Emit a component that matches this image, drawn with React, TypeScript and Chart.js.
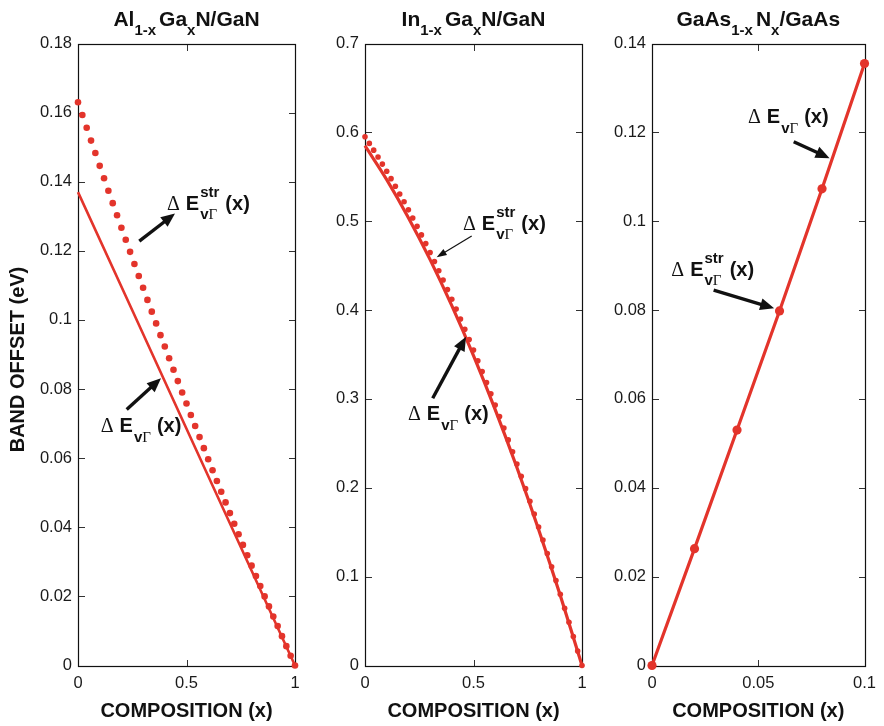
import React, { useEffect, useRef } from 'react';
import { Chart, registerables } from 'chart.js';

Chart.register(...registerables);

const RED = '#e3342b';
const W = 884;
const H = 726;
const TOP = 43.5;
const BOTTOM = 665.5;
const Y_W = 60;
const X_H = 40;

// composition grid of the dotted (strained) curves
const compositionFine = [
  0, 0.02, 0.04, 0.06, 0.08, 0.1, 0.12, 0.14, 0.16, 0.18, 0.2, 0.22, 0.24, 0.26, 0.28, 0.3, 0.32,
  0.34, 0.36, 0.38, 0.4, 0.42, 0.44, 0.46, 0.48, 0.5, 0.52, 0.54, 0.56, 0.58, 0.6, 0.62, 0.64,
  0.66, 0.68, 0.7, 0.72, 0.74, 0.76, 0.78, 0.8, 0.82, 0.84, 0.86, 0.88, 0.9, 0.92, 0.94, 0.96,
  0.98, 1,
];

// AlGaN/GaN
const alStrained = [
  0.163, 0.1593, 0.1556, 0.1519, 0.1483, 0.1446, 0.141, 0.1374, 0.1338, 0.1303, 0.1267, 0.1232,
  0.1197, 0.1162, 0.1127, 0.1093, 0.1058, 0.1024, 0.099, 0.0956, 0.0923, 0.0889, 0.0856, 0.0823,
  0.079, 0.0758, 0.0725, 0.0693, 0.0661, 0.0629, 0.0597, 0.0565, 0.0534, 0.0503, 0.0472, 0.0441,
  0.041, 0.038, 0.0349, 0.0319, 0.0289, 0.0259, 0.023, 0.02, 0.0171, 0.0142, 0.0114, 0.0085,
  0.0056, 0.0028, 0,
];
const alLineX = [0, 0.25, 0.5, 0.75, 1];
const alLine = [0.137, 0.1028, 0.0685, 0.0343, 0];

// InGaN/GaN
const inStrained = [
  0.595, 0.5876, 0.58, 0.5723, 0.5643, 0.5562, 0.5479, 0.5394, 0.5307, 0.5219, 0.5128, 0.5036,
  0.4942, 0.4846, 0.4748, 0.4648, 0.4547, 0.4443, 0.4338, 0.4231, 0.4122, 0.4011, 0.3899, 0.3784,
  0.3668, 0.355, 0.343, 0.3308, 0.3185, 0.3059, 0.2932, 0.2803, 0.2672, 0.2539, 0.2405, 0.2268,
  0.213, 0.199, 0.1848, 0.1704, 0.1558, 0.1411, 0.1261, 0.111, 0.0957, 0.0802, 0.0645, 0.0487,
  0.0326, 0.0164, 0,
];
const inLineX = [0, 0.1, 0.2, 0.3, 0.4, 0.5, 0.6, 0.7, 0.8, 0.9, 1];
const inLine = [0.585, 0.5468, 0.504, 0.4568, 0.405, 0.3488, 0.288, 0.2228, 0.153, 0.0788, 0];

// GaAsN/GaAs
const gaX = [0, 0.02, 0.04, 0.06, 0.08, 0.1];
const gaLine = [0, 0.0263, 0.053, 0.0798, 0.1073, 0.1355];

// tick labels
const alYTicks = [0, 0.02, 0.04, 0.06, 0.08, 0.1, 0.12, 0.14, 0.16, 0.18];
const inYTicks = [0, 0.1, 0.2, 0.3, 0.4, 0.5, 0.6, 0.7];
const gaYTicks = [0, 0.02, 0.04, 0.06, 0.08, 0.1, 0.12, 0.14];
const unitXTicks = [0, 0.5, 1];
const gaXTicks = [0, 0.05, 0.1];

const Y_TITLE = 'BAND OFFSET (eV)';
const X_TITLE = 'COMPOSITION (x)';

type Part = { t: string; sub?: boolean; gap?: number };
type Label = { x: number; y: number; str: boolean };
type Arrow = { x1: number; y1: number; x2: number; y2: number; thin?: boolean };

const alTitle: Part[] = [{ t: 'Al' }, { t: '1-x', sub: true, gap: 3 }, { t: 'Ga' }, { t: 'x', sub: true }, { t: 'N/GaN' }];
const inTitle: Part[] = [{ t: 'In' }, { t: '1-x', sub: true, gap: 3 }, { t: 'Ga' }, { t: 'x', sub: true }, { t: 'N/GaN' }];
const gaTitle: Part[] = [{ t: 'GaAs' }, { t: '1-x', sub: true, gap: 3 }, { t: 'N' }, { t: 'x', sub: true }, { t: '/GaAs' }];

const alLabels: Label[] = [
  { x: 0.4101, y: 0.1317, str: true },
  { x: 0.1046, y: 0.0676, str: false },
];
const alArrows: Arrow[] = [
  { x1: 0.2825, y1: 0.1228, x2: 0.447, y2: 0.1308 },
  { x1: 0.2244, y1: 0.0741, x2: 0.3825, y2: 0.0831 },
];
const inLabels: Label[] = [
  { x: 0.4516, y: 0.4901, str: true },
  { x: 0.1982, y: 0.2763, str: false },
];
const inArrows: Arrow[] = [
  { x1: 0.4917, y1: 0.4834, x2: 0.3304, y2: 0.4594, thin: true },
  { x1: 0.312, y1: 0.3007, x2: 0.4654, y2: 0.37 },
];
const gaLabels: Label[] = [
  { x: 0.00908, y: 0.0877, str: true },
  { x: 0.04516, y: 0.122, str: false },
];
const gaArrows: Arrow[] = [
  { x1: 0.029, y1: 0.0845, x2: 0.05747, y2: 0.0804 },
  { x1: 0.06668, y1: 0.1179, x2: 0.08355, y2: 0.1142 },
];

const SANS = '"Liberation Sans", Arial, sans-serif';
const SERIF = '"Liberation Serif", "Times New Roman", serif';

function pts(xs: number[], ys: number[]) {
  return xs.map((x, i) => ({ x, y: ys[i] }));
}

function drawRich(ctx: CanvasRenderingContext2D, parts: Part[], cx: number, y: number) {
  const mainF = `bold 21px ${SANS}`;
  const subF = `bold 15px ${SANS}`;
  let total = 0;
  for (const p of parts) {
    ctx.font = p.sub ? subF : mainF;
    total += ctx.measureText(p.t).width + (p.gap || 0);
  }
  let x = cx - total / 2;
  ctx.textAlign = 'left';
  ctx.textBaseline = 'alphabetic';
  for (const p of parts) {
    ctx.font = p.sub ? subF : mainF;
    ctx.fillText(p.t, x, p.sub ? y + 9 : y);
    x += ctx.measureText(p.t).width + (p.gap || 0);
  }
}

function drawDeltaE(ctx: CanvasRenderingContext2D, x: number, y: number, withStr: boolean) {
  ctx.textAlign = 'left';
  ctx.textBaseline = 'alphabetic';
  ctx.fillStyle = '#111';
  ctx.font = `20px ${SERIF}`;
  ctx.fillText('Δ', x, y);
  let cx = x + ctx.measureText('Δ').width + 6;
  ctx.font = `bold 20px ${SANS}`;
  ctx.fillText('E', cx, y);
  cx += ctx.measureText('E').width + 1;
  const subY = y + (withStr ? 9 : 10);
  ctx.font = `bold 15px ${SANS}`;
  ctx.fillText('v', cx, subY);
  let subW = ctx.measureText('v').width;
  ctx.font = `15px ${SERIF}`;
  ctx.fillText('Γ', cx + subW, subY);
  subW += ctx.measureText('Γ').width;
  let supW = 0;
  if (withStr) {
    ctx.font = `bold 15px ${SANS}`;
    ctx.fillText('str', cx, y - 13);
    supW = ctx.measureText('str').width;
  }
  cx += Math.max(subW, supW) + 6;
  ctx.font = `bold 20px ${SANS}`;
  ctx.fillText('(x)', cx, y);
}

function drawArrow(ctx: CanvasRenderingContext2D, x1: number, y1: number, x2: number, y2: number, thin?: boolean) {
  const lw = thin ? 1.2 : 3.4;
  const hl = thin ? 10 : 14;
  const hw = thin ? 3.5 : 6;
  const a = Math.atan2(y2 - y1, x2 - x1);
  const bx = x2 - hl * Math.cos(a);
  const by = y2 - hl * Math.sin(a);
  ctx.strokeStyle = '#111';
  ctx.fillStyle = '#111';
  ctx.lineWidth = lw;
  ctx.lineCap = 'butt';
  ctx.beginPath();
  ctx.moveTo(x1, y1);
  ctx.lineTo(bx + Math.cos(a), by + Math.sin(a));
  ctx.stroke();
  ctx.beginPath();
  ctx.moveTo(x2, y2);
  ctx.lineTo(bx + hw * Math.sin(a), by - hw * Math.cos(a));
  ctx.lineTo(bx - hw * Math.sin(a), by + hw * Math.cos(a));
  ctx.closePath();
  ctx.fill();
}

type Panel = {
  left: number;
  right: number;
  xMax: number;
  yMax: number;
  xTicks: number[];
  yTicks: number[];
  datasets: any[];
  title: Part[];
  labels: Label[];
  arrows: Arrow[];
  yTitle: boolean;
};

const panels: Panel[] = [
  {
    left: 78,
    right: 295,
    xMax: 1,
    yMax: 0.18,
    xTicks: unitXTicks,
    yTicks: alYTicks,
    title: alTitle,
    labels: alLabels,
    arrows: alArrows,
    yTitle: true,
    datasets: [
      { data: pts(alLineX, alLine), showLine: true, borderColor: RED, borderWidth: 2.6, pointRadius: 0, clip: false },
      { data: pts(compositionFine, alStrained), showLine: false, backgroundColor: RED, borderWidth: 0, pointRadius: 3.3, clip: false },
    ],
  },
  {
    left: 365,
    right: 582,
    xMax: 1,
    yMax: 0.7,
    xTicks: unitXTicks,
    yTicks: inYTicks,
    title: inTitle,
    labels: inLabels,
    arrows: inArrows,
    yTitle: false,
    datasets: [
      { data: pts(inLineX, inLine), showLine: true, borderColor: RED, borderWidth: 3.2, pointRadius: 0, tension: 0.3, clip: false },
      { data: pts(compositionFine, inStrained), showLine: false, backgroundColor: RED, borderWidth: 0, pointRadius: 2.8, clip: false },
    ],
  },
  {
    left: 652,
    right: 869,
    xMax: 0.1,
    yMax: 0.14,
    xTicks: gaXTicks,
    yTicks: gaYTicks,
    title: gaTitle,
    labels: gaLabels,
    arrows: gaArrows,
    yTitle: false,
    datasets: [
      { data: pts(gaX, gaLine), showLine: true, borderColor: RED, borderWidth: 3.2, pointRadius: 4.6, backgroundColor: RED, pointBorderWidth: 0, clip: false },
    ],
  },
];

function PanelChart({ p }: { p: Panel }) {
  const ref = useRef<HTMLCanvasElement | null>(null);
  useEffect(() => {
    if (!ref.current) return;
    const tickFont = { family: SANS, size: 16.5 };
    const decor = {
      id: 'decor' + p.left,
      beforeDatasetsDraw(chart: any) {
        const { ctx, chartArea: a, scales } = chart;
        ctx.save();
        const l = Math.round(a.left) + 0.5;
        const r = Math.round(a.right) + 0.5;
        const t = Math.round(a.top) + 0.5;
        const b = Math.round(a.bottom) + 0.5;
        ctx.strokeStyle = '#333';
        ctx.lineWidth = 1;
        const TL = 6.5;
        ctx.beginPath();
        for (const v of p.xTicks) {
          const x = Math.round(scales.x.getPixelForValue(v)) + 0.5;
          ctx.moveTo(x, b);
          ctx.lineTo(x, b - TL);
          ctx.moveTo(x, t);
          ctx.lineTo(x, t + TL);
        }
        for (const v of p.yTicks) {
          const y = Math.round(scales.y.getPixelForValue(v)) + 0.5;
          ctx.moveTo(l, y);
          ctx.lineTo(l + TL, y);
          ctx.moveTo(r, y);
          ctx.lineTo(r - TL, y);
        }
        ctx.stroke();
        ctx.strokeStyle = '#111';
        ctx.lineWidth = 1.2;
        ctx.strokeRect(l, t, r - l, b - t);
        ctx.restore();
      },
      afterDraw(chart: any) {
        const { ctx, chartArea: a, scales } = chart;
        ctx.save();
        ctx.fillStyle = '#111';
        const cx = (a.left + a.right) / 2;
        drawRich(ctx, p.title, cx, 26);
        ctx.font = `bold 20px ${SANS}`;
        ctx.textAlign = 'center';
        ctx.textBaseline = 'alphabetic';
        ctx.fillText(X_TITLE, cx, 717);
        if (p.yTitle) {
          ctx.save();
          ctx.translate(24, (a.top + a.bottom) / 2 + 5);
          ctx.rotate(-Math.PI / 2);
          ctx.textAlign = 'center';
          ctx.fillText(Y_TITLE, 0, 0);
          ctx.restore();
        }
        for (const ar of p.arrows) {
          drawArrow(
            ctx,
            scales.x.getPixelForValue(ar.x1),
            scales.y.getPixelForValue(ar.y1),
            scales.x.getPixelForValue(ar.x2),
            scales.y.getPixelForValue(ar.y2),
            ar.thin,
          );
        }
        for (const lb of p.labels) {
          drawDeltaE(ctx, scales.x.getPixelForValue(lb.x), scales.y.getPixelForValue(lb.y), lb.str);
        }
        ctx.restore();
      },
    };
    const chart = new Chart(ref.current, {
      type: 'scatter',
      data: { datasets: p.datasets },
      options: {
        animation: false,
        responsive: false,
        events: [],
        layout: {
          padding: { left: p.left - Y_W, right: W - p.right, top: TOP, bottom: H - BOTTOM - X_H },
        },
        plugins: { legend: { display: false }, tooltip: { enabled: false }, title: { display: false } },
        scales: {
          x: {
            type: 'linear',
            min: 0,
            max: p.xMax,
            afterFit: (s: any) => {
              s.height = X_H;
            },
            afterBuildTicks: (s: any) => {
              s.ticks = p.xTicks.map((v) => ({ value: v }));
            },
            grid: { display: false, drawTicks: false },
            border: { display: false },
            ticks: { padding: 8, font: tickFont, color: '#1a1a1a', maxRotation: 0, callback: (v: any) => String(v) },
          },
          y: {
            type: 'linear',
            min: 0,
            max: p.yMax,
            afterFit: (s: any) => {
              s.width = Y_W;
            },
            afterBuildTicks: (s: any) => {
              s.ticks = p.yTicks.map((v) => ({ value: v }));
            },
            grid: { display: false, drawTicks: false },
            border: { display: false },
            ticks: { padding: 6, font: tickFont, color: '#1a1a1a', callback: (v: any) => String(v) },
          },
        },
      },
      plugins: [decor],
    } as any);
    return () => chart.destroy();
  }, [p]);
  return (
    <canvas
      ref={ref}
      width={W}
      height={H}
      style={{ position: 'absolute', left: 0, top: 0, width: W, height: H }}
    />
  );
}

export default function App() {
  return (
    <div style={{ position: 'absolute', left: 0, top: 0, width: W, height: H, background: '#fff', overflow: 'hidden' }}>
      {panels.map((p) => (
        <PanelChart key={p.left} p={p} />
      ))}
    </div>
  );
}
